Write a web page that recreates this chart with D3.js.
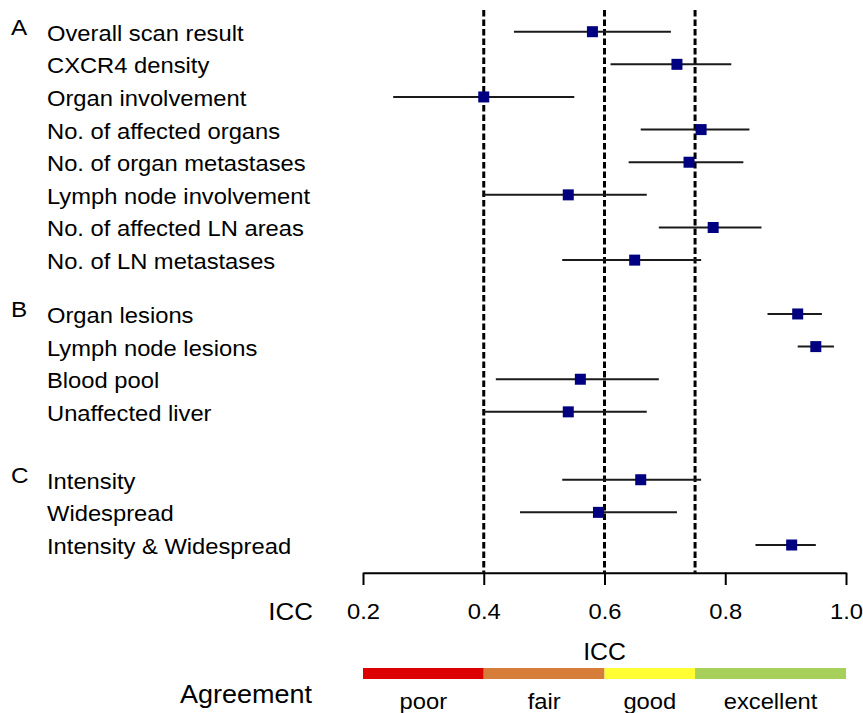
<!DOCTYPE html>
<html>
<head>
<meta charset="utf-8">
<script src="https://cdnjs.cloudflare.com/ajax/libs/d3/7.8.5/d3.min.js"></script>
<style>
  body { margin: 0; background: #fff; }
  svg text { font-family: "Liberation Sans", Arial, Helvetica, sans-serif; fill: #000; }
</style>
</head>
<body>
<svg id="chart"></svg>
<script>
// Data
const sectionNames = ["A", "B", "C"];
const rowLabels = [
  "Overall scan result", "CXCR4 density", "Organ involvement", "No. of affected organs",
  "No. of organ metastases", "Lymph node involvement", "No. of affected LN areas", "No. of LN metastases",
  "Organ lesions", "Lymph node lesions", "Blood pool", "Unaffected liver",
  "Intensity", "Widespread", "Intensity & Widespread"
];
const rowSection = [0, 0, 0, 0, 0, 0, 0, 0, 1, 1, 1, 1, 2, 2, 2];
const iccValue = [0.58, 0.72, 0.40, 0.76, 0.74, 0.54, 0.78, 0.65, 0.92, 0.95, 0.56, 0.54, 0.66, 0.59, 0.91];
const iccLower = [0.45, 0.61, 0.25, 0.66, 0.64, 0.40, 0.69, 0.53, 0.87, 0.92, 0.42, 0.40, 0.53, 0.46, 0.85];
const iccUpper = [0.71, 0.81, 0.55, 0.84, 0.83, 0.67, 0.86, 0.76, 0.96, 0.98, 0.69, 0.67, 0.76, 0.72, 0.95];

const thresholds = [0.4, 0.6, 0.75];
const majorTicks = [0.2, 0.4, 0.6, 0.8, 1.0];
const minorTicks = [0.3, 0.5, 0.7, 0.9];
const bandNames = ["poor", "fair", "good", "excellent"];
const bandBreaks = [0.2, 0.4, 0.6, 0.75, 1.0];
const bandColors = ["#dd0000", "#d67d3a", "#ffff33", "#a6d05a"];

// layout
const width = 863, height = 713;
const sectionStart = [0, 8.65, 13.73]; // slot where each section begins
const stretch = 1.08; // text in the figure is slightly wide

const svg = d3.select("#chart").attr("width", width).attr("height", height);

// slot index for each row
const slots = rowLabels.map((_, i) => {
  const s = rowSection[i];
  const first = rowSection.indexOf(s);
  return sectionStart[s] + (i - first);
});

const x = d3.scaleLinear().domain([0.2, 1.0]).range([363, 846]);
const y = d3.scaleLinear().domain([0, 15.73]).range([31.7, 545]);
const axisY = 572.7;

// dashed agreement thresholds
svg.append("g")
  .selectAll("line")
  .data(thresholds)
  .join("line")
  .attr("x1", d => x(d)).attr("x2", d => x(d))
  .attr("y1", 10).attr("y2", axisY)
  .attr("stroke", "#000")
  .attr("stroke-width", 3)
  .attr("stroke-dasharray", "6.5,3");

// row labels
svg.append("g")
  .selectAll("text")
  .data(rowLabels)
  .join("text")
  .attr("transform", (d, i) => `translate(47,${y(slots[i]) + 9}) scale(${stretch},1)`)
  .style("font-size", "22px")
  .text(d => d);

// section letters
svg.append("g")
  .selectAll("text")
  .data(sectionNames)
  .join("text")
  .attr("transform", (d, i) => `translate(11,${y(sectionStart[i]) + 3}) scale(${stretch},1)`)
  .style("font-size", "22.5px")
  .text(d => d);

// confidence intervals
svg.append("g")
  .selectAll("line")
  .data(iccValue)
  .join("line")
  .attr("x1", (d, i) => x(iccLower[i]))
  .attr("x2", (d, i) => x(iccUpper[i]))
  .attr("y1", (d, i) => y(slots[i]))
  .attr("y2", (d, i) => y(slots[i]))
  .attr("stroke", "#1a1a1a")
  .attr("stroke-width", 2);

// point estimates
const sq = 11;
svg.append("g")
  .selectAll("rect")
  .data(iccValue)
  .join("rect")
  .attr("x", d => x(d) - sq / 2)
  .attr("y", (d, i) => y(slots[i]) - sq / 2)
  .attr("width", sq).attr("height", sq)
  .attr("fill", "#000080");

// axis
const axisG = svg.append("g").attr("transform", `translate(0,${axisY})`);
axisG.call(d3.axisBottom(x).tickValues(minorTicks).tickSize(6.6).tickSizeOuter(0).tickFormat(""))
  .call(g => g.select(".domain").remove());
axisG.call(d3.axisBottom(x).tickValues(majorTicks).tickSize(12.3).tickSizeOuter(0)
  .tickPadding(18.7).tickFormat(d3.format(".1f")));
axisG.selectAll("line, path").attr("stroke", "#000").attr("stroke-width", 2);
axisG.selectAll("text")
  .attr("transform", `scale(${stretch},1)`)
  .style("font-size", "22px")
  .style("font-family", "'Liberation Sans', Arial, sans-serif")
  .attr("fill", "#000");

svg.append("text")
  .attr("transform", `translate(313,620) scale(${stretch},1)`)
  .attr("text-anchor", "end")
  .style("font-size", "24px")
  .text("ICC");

// agreement colour bar
svg.append("text")
  .attr("transform", `translate(${x(0.6)},660) scale(${stretch},1)`)
  .attr("text-anchor", "middle")
  .style("font-size", "23px")
  .text("ICC");

svg.append("g")
  .selectAll("rect")
  .data(bandNames)
  .join("rect")
  .attr("x", (d, i) => x(bandBreaks[i]))
  .attr("width", (d, i) => x(bandBreaks[i + 1]) - x(bandBreaks[i]))
  .attr("y", 668).attr("height", 11)
  .attr("fill", (d, i) => bandColors[i]);

svg.append("g")
  .selectAll("text")
  .data(bandNames)
  .join("text")
  .attr("transform", (d, i) =>
    `translate(${(x(bandBreaks[i]) + x(bandBreaks[i + 1])) / 2},709) scale(${stretch},1)`)
  .attr("text-anchor", "middle")
  .style("font-size", "22px")
  .text(d => d);

svg.append("text")
  .attr("transform", `translate(312,703) scale(${stretch},1)`)
  .attr("text-anchor", "end")
  .style("font-size", "25px")
  .text("Agreement");
</script>
</body>
</html>
